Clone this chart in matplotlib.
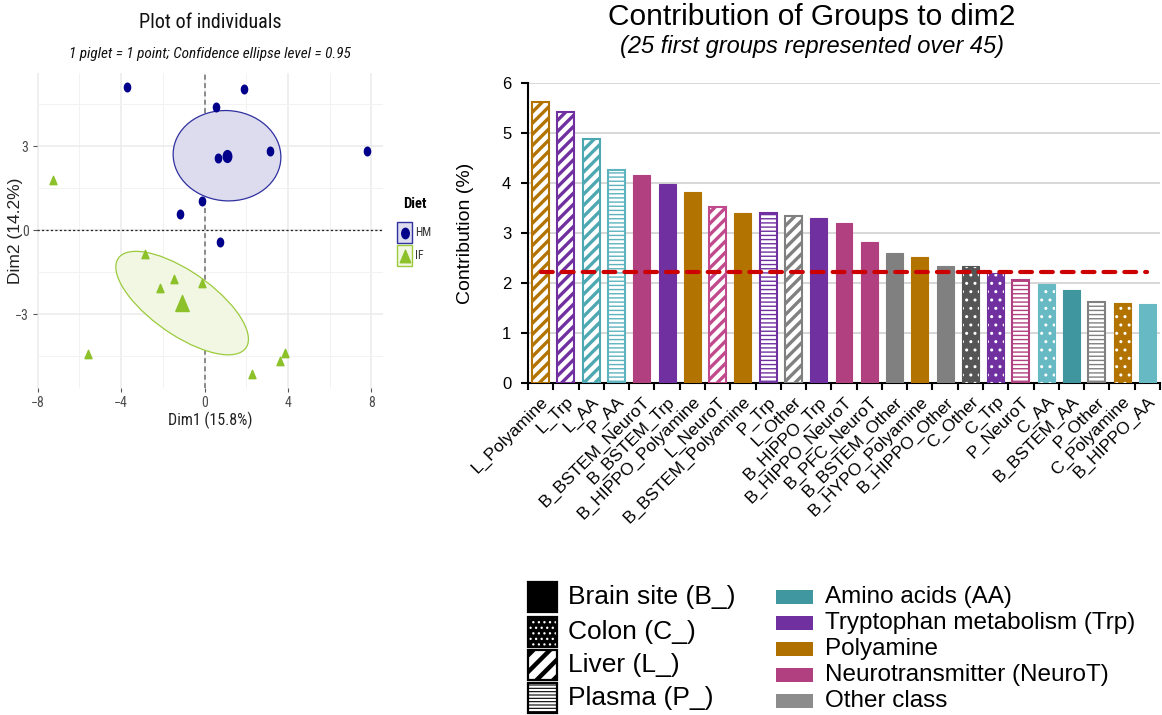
import numpy as np
import matplotlib
matplotlib.use("Agg")
import matplotlib.pyplot as plt
from matplotlib.path import Path
from matplotlib.patches import Ellipse, Rectangle
from matplotlib.transforms import Affine2D

# ---------------- data: individuals map (PCA) ----------------
hm_x = [-3.71, 1.88, 0.53, 0.63, 3.13, 7.80, -0.10, -1.20, 0.72]
hm_y = [5.10, 5.04, 4.40, 2.57, 2.82, 2.82, 1.04, 0.57, -0.43]
if_x = [-7.28, -2.84, -1.45, -2.12, -0.14, -5.59, 3.86, 3.60, 2.27]
if_y = [1.79, -0.86, -1.75, -2.07, -1.90, -4.43, -4.38, -4.68, -5.12]
diet_labels = ["HM", "IF"]
scatter_xticks = [-8, -4, 0, 4, 8]
scatter_yticks = [-3, 0, 3]
dim1_pct = 15.8
dim2_pct = 14.2
conf_level = 0.95

# ---------------- data: contributions to dim2 ----------------
groups = ["L_Polyamine", "L_Trp", "L_AA", "P_AA", "B_BSTEM_NeuroT", "B_BSTEM_Trp",
          "B_HIPPO_Polyamine", "L_NeuroT", "B_BSTEM_Polyamine", "P_Trp", "L_Other",
          "B_HIPPO_Trp", "B_HIPPO_NeuroT", "B_PFC_NeuroT", "B_BSTEM_Other",
          "B_HYPO_Polyamine", "B_HIPPO_Other", "C_Other", "C_Trp", "P_NeuroT",
          "C_AA", "B_BSTEM_AA", "P_Other", "C_Polyamine", "B_HIPPO_AA"]
contrib = [5.63, 5.43, 4.89, 4.27, 4.17, 3.99, 3.82, 3.53, 3.41, 3.40, 3.34,
           3.30, 3.20, 2.83, 2.61, 2.53, 2.35, 2.35, 2.21, 2.07, 1.98, 1.86,
           1.63, 1.61, 1.59]
n_groups_total = 45
site_labels = ["Brain site (B_)", "Colon (C_)", "Liver (L_)", "Plasma (P_)"]
class_labels = ["Amino acids (AA)", "Tryptophan metabolism (Trp)", "Polyamine",
                "Neurotransmitter (NeuroT)", "Other class"]

# ---------------- styles ----------------
W, H = 1162, 715
plt.rcParams["lines.scale_dashes"] = False
plt.rcParams["hatch.linewidth"] = 1.6
NARROW = ["Liberation Sans Narrow", "Roboto Condensed", "DejaVu Sans Condensed", "Liberation Sans"]
SANS = ["Liberation Sans", "DejaVu Sans"]
NAVY = "#00008B"
GREEN = "#8DC12A"

class_colors = {"AA": "#5DB3BE", "Trp": "#7030A0", "Polyamine": "#B37300",
                "NeuroT": "#B0407F", "Other": "#808080"}
shade_override = {"B_BSTEM_AA": "#40969E", "B_HIPPO_AA": "#67B9C4", "C_AA": "#67B9C4",
                  "L_AA": "#4EA8B1", "C_Other": "#555555", "L_NeuroT": "#C04A8C"}
legend_class_colors = ["#40979F", "#7030A0", "#B07000", "#B04080", "#8C8C8C"]

fig = plt.figure(figsize=(W / 100, H / 100), dpi=100)


def fbox(x0, y0, x1, y1):
    return [x0 / W, 1 - y1 / H, (x1 - x0) / W, (y1 - y0) / H]


def set_hlw(patches, lw):
    for p in patches:
        try:
            p.set_hatch_linewidth(lw)
        except AttributeError:
            pass


# overlay for manual legends (pixel coords)
ov = fig.add_axes([0, 0, 1, 1], zorder=-1)
ov.set_xlim(0, W)
ov.set_ylim(H, 0)
ov.axis("off")

# ---------------- left: individuals map ----------------
ax1 = fig.add_axes(fbox(37, 73, 383, 388))
allx = np.array(hm_x + if_x)
ally = np.array(hm_y + if_y)
rx = allx.max() - allx.min()
ry = ally.max() - ally.min()
ax1.set_xlim(allx.min() - 0.05 * rx, allx.max() + 0.05 * rx)
ax1.set_ylim(ally.min() - 0.05 * ry, ally.max() + 0.05 * ry)
ax1.set_xticks(scatter_xticks)
ax1.set_yticks(scatter_yticks)
ax1.set_xticks([(a + b) / 2 for a, b in zip(scatter_xticks[:-1], scatter_xticks[1:])], minor=True)
ax1.set_yticks([-4.5, -1.5, 1.5, 4.5], minor=True)
ax1.grid(True, which="major", color="#EBEBEB", lw=1.1)
ax1.grid(True, which="minor", color="#F2F2F2", lw=0.7)
ax1.set_axisbelow(True)
for s in ax1.spines.values():
    s.set_visible(False)
ax1.tick_params(which="major", length=3, color="#555555", labelcolor="#4D4D4D", labelsize=10, pad=3)
ax1.tick_params(which="minor", length=0)
for lab in ax1.get_xticklabels() + ax1.get_yticklabels():
    lab.set_family(NARROW)
ax1.axvline(0, color="#6E6E6E", lw=1.1, dashes=(3.5, 2.5), zorder=1)
ax1.axhline(0, color="#222222", lw=0.9, dashes=(1.6, 1.6), zorder=1)

k = np.sqrt(-2 * np.log(1 - conf_level))


def conf_ellipse(x, y, color, face):
    x = np.asarray(x)
    y = np.asarray(y)
    cov = np.cov(x, y) / len(x)
    vals, vecs = np.linalg.eigh(cov)
    order = vals.argsort()[::-1]
    vals, vecs = vals[order], vecs[:, order]
    ang = np.degrees(np.arctan2(vecs[1, 0], vecs[0, 0]))
    w, h = 2 * k * np.sqrt(vals)
    ax1.add_patch(Ellipse((x.mean(), y.mean()), w, h, angle=ang, facecolor=face,
                          edgecolor=color, lw=0.9, zorder=2))


conf_ellipse(hm_x, hm_y, "#3030A0", "#DCDCEE")
conf_ellipse(if_x, if_y, "#9BCB3C", "#F1F7E3")

circ = Path.unit_circle().transformed(Affine2D().scale(0.72, 1.0))
tri = Path([(-0.42, -0.5), (0.42, -0.5), (0.0, 0.5), (-0.42, -0.5)],
           [Path.MOVETO, Path.LINETO, Path.LINETO, Path.CLOSEPOLY])

ax1.plot(hm_x, hm_y, ls="none", marker=circ, ms=6.2, color=NAVY, zorder=4)
ax1.plot([np.mean(hm_x)], [np.mean(hm_y)], ls="none", marker=circ, ms=8.5, color=NAVY, zorder=4)
ax1.plot(if_x, if_y, ls="none", marker=tri, ms=6.0, color=GREEN, zorder=4)
ax1.plot([np.mean(if_x)], [np.mean(if_y)], ls="none", marker=tri, ms=11.5, color=GREEN, zorder=4)

ax1.set_xlabel(f"Dim1 ({dim1_pct}%)", family=NARROW, fontsize=11.5, color="#222222", labelpad=1)
fig.text(16 / W, 1 - 231 / H, f"Dim2 ({dim2_pct}%)", family=SANS, fontsize=12.5,
         color="#222222", rotation=90, ha="center", va="center")

fig.text(210 / W, 1 - 22 / H, "Plot of individuals", family=NARROW, fontsize=14.5,
         ha="center", va="center", color="#111111")
fig.text(210 / W, 1 - 54 / H, "1 piglet = 1 point; Confidence ellipse level = 0.95",
         family=NARROW, fontsize=11, style="italic", ha="center", va="center", color="#111111")

# scatter legend
ov.text(403, 204, "Diet", family=NARROW, fontsize=10.5, fontweight="bold", ha="left", va="center")
ov.add_patch(Rectangle((397, 222), 15, 21, facecolor="#DCDCEE", edgecolor="#3030A0", lw=1.0))
ov.add_patch(Rectangle((397, 245), 15, 21, facecolor="#F1F7E3", edgecolor="#9BCB3C", lw=1.0))
ov.plot([404.5], [232.5], marker=circ, ms=7.5, color=NAVY, ls="none")
ov.plot([404.5], [255.5], marker=tri, ms=9, color=GREEN, ls="none")
for lab, yy in zip(diet_labels, [232.5, 255.5]):
    ov.text(415, yy, lab, family=NARROW, fontsize=8.5, color="#333333", ha="left", va="center")

# ---------------- right: contribution bars ----------------
ax2 = fig.add_axes(fbox(528, 83, 1160, 383))
n = len(groups)
xpos = np.arange(n)
ax2.set_xlim(-0.47, n - 0.5)
ax2.set_ylim(0, 6)

for i, (g, v) in enumerate(zip(groups, contrib)):
    site = g.split("_")[0]
    cls = g.split("_")[-1]
    col = shade_override.get(g, class_colors[cls])
    if site == "B":
        ax2.bar(i, v, width=0.67, color=col, edgecolor=col, lw=0.8, zorder=3)
    elif site == "C":
        b = ax2.bar(i, v, width=0.67, color=col, edgecolor="white", hatch="..", lw=0, zorder=3)
        set_hlw(b, 1.0)
        ax2.bar(i, v, width=0.67, fill=False, edgecolor=col, lw=0.8, zorder=3)
    elif site == "L":
        b = ax2.bar(i, v, width=0.67, color="white", edgecolor=col, hatch="///", lw=1.5, zorder=3)
        set_hlw(b, 2.4)
    else:
        b = ax2.bar(i, v, width=0.67, color="white", edgecolor=col, hatch="----", lw=1.5, zorder=3)
        set_hlw(b, 1.0)

thr = 100.0 / n_groups_total
ax2.plot([xpos[0], xpos[-1]], [thr, thr], color="#CC0000", lw=3.0, dashes=(8.5, 6.5),
         dash_capstyle="round", zorder=5)

ax2.set_yticks(range(0, 7))
ax2.yaxis.grid(True, color="#D4D4D4", lw=1.3)
ax2.set_axisbelow(True)
for s in ["top", "right"]:
    ax2.spines[s].set_visible(False)
for s in ["left", "bottom"]:
    ax2.spines[s].set_linewidth(1.5)
ax2.set_xticks(xpos)
ax2.set_xticklabels(groups, rotation=45, ha="right", va="top", rotation_mode="anchor",
                    family=SANS, fontsize=12.5)
ax2.set_xticks(np.arange(n + 1) - 0.5, minor=True)
ax2.tick_params(axis="x", which="major", length=0, pad=8)
ax2.tick_params(axis="x", which="minor", length=5, width=1.5)
ax2.tick_params(axis="y", length=5, width=1.5, pad=7, labelsize=12)
for lab in ax2.get_yticklabels():
    lab.set_family(SANS)

fig.text(466 / W, 1 - 233 / H, "Contribution (%)", rotation=90, family=SANS, fontsize=14,
         ha="center", va="center")
fig.text(812 / W, 1 - 17 / H, "Contribution of Groups to dim2", family=SANS, fontsize=21.5,
         ha="center", va="center")
fig.text(812 / W, 1 - 46 / H, "(25 first groups represented over 45)", family=SANS,
         fontsize=17, style="italic", ha="center", va="center")

# ---------------- bottom legend ----------------
site_y = [597, 632, 665, 698]
site_styles = [(dict(facecolor="black"), None),
               (dict(facecolor="black", edgecolor="white", hatch="...", lw=0), 0.9),
               (dict(facecolor="white", edgecolor="black", hatch="//", lw=0), 3.2),
               (dict(facecolor="white", edgecolor="black", hatch="-----", lw=0), 0.8)]
for lab, yy, (st, hl) in zip(site_labels, site_y, site_styles):
    r = Rectangle((528, yy - 15), 29, 30, **st)
    if hl is not None:
        set_hlw([r], hl)
    ov.add_patch(r)
    ov.add_patch(Rectangle((528, yy - 15), 29, 30, fill=False, edgecolor="black", lw=1.6))
    ov.text(568, yy, lab, family=SANS, fontsize=19, ha="left", va="center")

class_y = [597, 623, 649, 675, 701]
for lab, yy, col in zip(class_labels, class_y, legend_class_colors):
    ov.add_patch(Rectangle((776, yy - 7), 37, 14, facecolor=col, edgecolor="none"))
    ov.text(825, yy, lab, family=SANS, fontsize=17.5, ha="left", va="center")

fig.savefig("out.png", dpi=100)
